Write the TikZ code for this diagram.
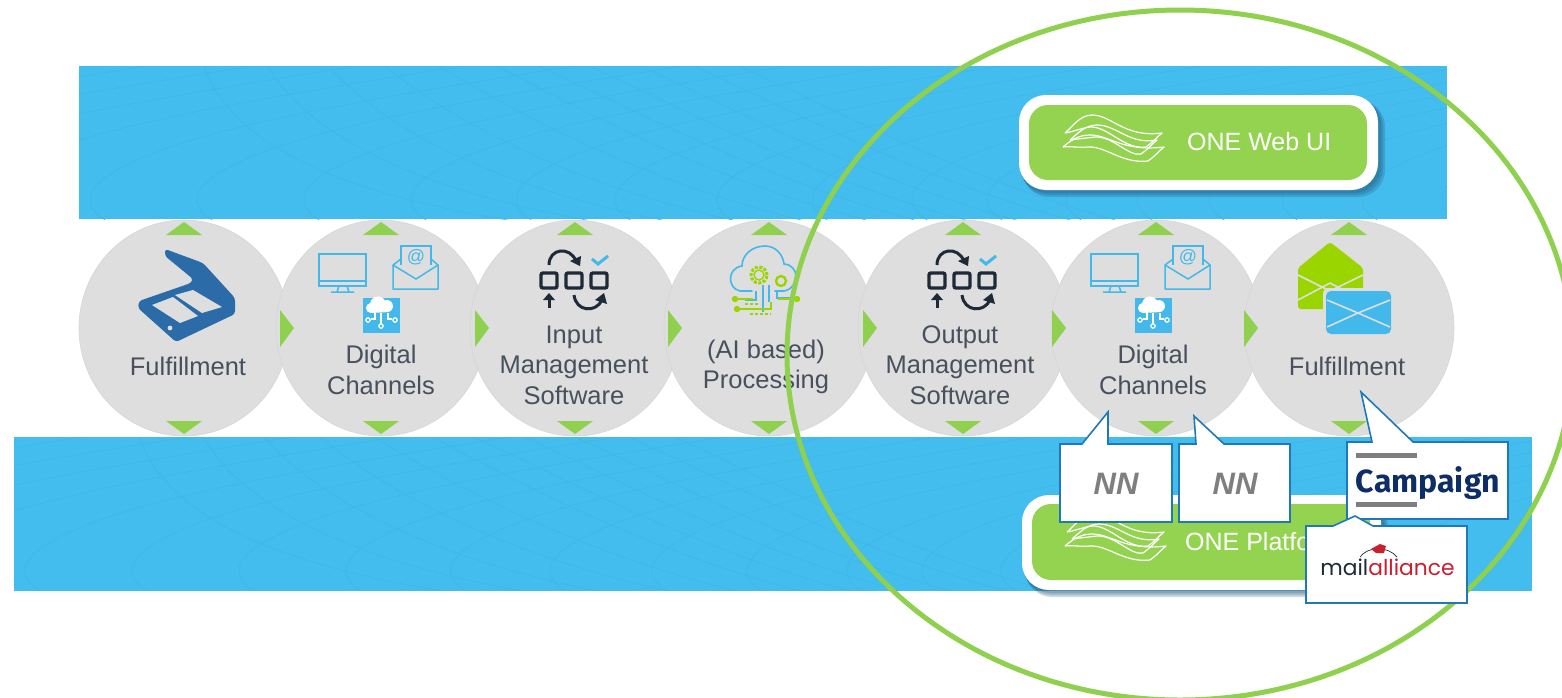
\documentclass[tikz,border=0pt]{standalone}
\usepackage{fontspec}
\setmainfont{Liberation Sans}
\newfontfamily\campfont{Fira Sans}
\newfontfamily\mailfont{Poppins}
\usetikzlibrary{calc,shapes.geometric}
\definecolor{bandblue}{HTML}{43BCEE}
\definecolor{bandline}{HTML}{3FB6E8}
\definecolor{ringgreen}{HTML}{8FD14F}
\definecolor{btngreen}{HTML}{93D34F}
\definecolor{disc}{HTML}{DEDEDE}
\definecolor{discedge}{HTML}{D6D6D6}
\definecolor{labelgrey}{HTML}{47505C}
\definecolor{scanblue}{HTML}{2B6CA8}
\definecolor{iconblue}{HTML}{43B8EA}
\definecolor{icondark}{HTML}{1E2A38}
\definecolor{limegreen}{HTML}{9AD500}
\definecolor{calloutedge}{HTML}{1F78B8}
\definecolor{navylogo}{HTML}{0E2D66}
\definecolor{greylogo}{HTML}{7F7F7F}
\definecolor{redlogo}{HTML}{C8202F}
\definecolor{shadowblue}{HTML}{1F4F70}
\tikzset{
  discnode/.style={ellipse,fill=disc,draw=discedge,line width=.6pt,minimum width=210pt,minimum height=216pt,inner sep=0pt},
  disclabel/.style={text=labelgrey,align=center,inner sep=0pt,font=\fontsize{25.5}{30.5}\selectfont},
  tri/.style={fill=ringgreen},
  bandbox/.style={fill=bandblue},
  faint/.style={draw=bandline,line width=.6pt},
  btnout/.style={fill=white,rounded corners=27pt},
  btnin/.style={fill=btngreen,rounded corners=19pt},
  btnshadow/.style={fill=shadowblue,opacity=.22,rounded corners=27pt},
  btntext/.style={text=white,inner sep=0pt,anchor=west,font=\fontsize{25}{30}\selectfont},
  wave/.style={draw=white,line width=1.2pt},
  thinicon/.style={draw=iconblue,line width=1.5pt},
  callout/.style={fill=white,draw=calloutedge,line width=1.6pt,line join=miter},
  nnlabel/.style={text=greylogo,inner sep=0pt,font=\fontsize{31}{31}\selectfont\bfseries\itshape},
  proc/.style={draw=icondark,line width=3.4pt,rounded corners=2pt},
  procarc/.style={draw=icondark,line width=3pt},
}
% faint grid of a band, from its top left corner
\newcommand{\gridlines}[3]{%
  \begin{scope}[shift={(#1,#2)}]
    \clip (0,0) rectangle (#3,153);
    \foreach \s/\k in {125/0,189/.2,250/.4,306/.6,360/.8,418/.9,459/1,510/1,561/1,615/1,660/1}{
      \draw[faint] (\s,0) .. controls ({\s+25+65*\k},{72-32*\k}) and ({\s+120+100*\k},{125-13*\k}) .. ({\s+310+70*\k},155);
    }
    \foreach \b in {-420,-315,-210,-105,8,115,222,329,434,533,635,730,830,905,984,1055,1127,1200,1280,1360}{
      \draw[faint] ({\b+20},155) .. controls ({\b-2},143) and ({\b-5},125) .. ({\b+25},107) .. controls ({\b+100},60) and ({\b+300},30) .. ({\b+550},-10);
    }
  \end{scope}}
% wave logo, drawn from its top left corner
\newcommand{\wavelogo}[2]{%
  \begin{scope}[shift={(#1,#2)}]
    \foreach \e/\ly/\cy/\ry in {0/18/0/18,5/25/10/25,-2/32/20/32}{
      \draw[wave,line join=round] ({3+\e},\ly) .. controls ({10+\e},{\ly-6}) and ({18+\e},\cy) .. ({30+\e},\cy)
         .. controls ({50+\e},\cy) and ({62+\e},{\ry+5}) .. ({100-\e},\ry)
         .. controls ({95-\e},{\ry+4}) and ({90-\e},{\ry+10}) .. ({84-\e},{\ry+14})
         .. controls ({62+\e},{\ry+17}) and ({46+\e},{\cy+11}) .. ({28+\e},{\cy+12})
         .. controls ({20+\e},{\cy+13}) and ({10+\e},{\ly-1}) .. ({3+\e},\ly);
    }
  \end{scope}}
% monitor, envelope and cloud icon of the digital channels
\newcommand{\digitalicon}[1]{%
  \begin{scope}[xshift=#1pt]
    \draw[thinicon] (319,254) rectangle (366,286);
    \draw[thinicon] (319,281) -- (366,281);
    \draw[thinicon] (339,286) -- (337,292) (347,286) -- (349,292) (331,292) -- (354,292);
    \draw[thinicon] (401,265) -- (401,246) -- (431,246) -- (431,265);
    \draw[thinicon,line join=round] (401,259) -- (393,265) -- (393,289) -- (438,289) -- (438,265) -- (431,259);
    \draw[thinicon] (393,265) -- (416,279) -- (438,265);
    \node[text=iconblue,inner sep=0pt,font=\fontsize{18}{18}\selectfont] (at#1) at (416,257) {@};
    \fill[iconblue] (363,298) rectangle (400,333);
    \fill[white] (371,313) arc[start angle=270,end angle=100,radius=5pt]
       arc[start angle=170,end angle=30,radius=8pt]
       arc[start angle=110,end angle=-90,radius=6pt] -- cycle;
    \draw[white,line width=1.3pt] (381,313) -- (381,324) (375,313) -- (375,319) -- (371,319) (388,313) -- (388,319) -- (392,319);
    \draw[white,line width=1.2pt] (381,326) circle[radius=2.2pt] (368,320) circle[radius=2.2pt] (395,320) circle[radius=2.2pt];
  \end{scope}}
% three steps icon of the management software
\newcommand{\processicon}[1]{%
  \begin{scope}[xshift=#1pt]
    \draw[proc] (541,273) rectangle (557,288);
    \draw[proc] (566,273) rectangle (582,288);
    \draw[proc] (591,273) rectangle (607,288);
    \draw[procarc] (549,265) .. controls (549,248) and (570,246) .. (576,261);
    \fill[icondark] (570,261) -- (581,256) -- (580,266) -- cycle;
    \draw[line width=3pt,draw=iconblue] (592,259) -- (598,264) -- (608,256);
    \draw[procarc] (549,308) -- (549,299);
    \fill[icondark] (543,300) -- (549,293) -- (555,300) -- cycle;
    \draw[procarc] (574,295) .. controls (576,312) and (596,313) .. (602,300);
    \fill[icondark] (595,300) -- (604,293) -- (607,304) -- cycle;
  \end{scope}}
\newcommand{\softshadow}[4]{%
  \fill[btnshadow] (#1+1,#2+3) rectangle (#3+3,#4+3);
  \fill[btnshadow] (#1+2,#2+4) rectangle (#3+5,#4+5);
  \fill[btnshadow] (#1+3,#2+5) rectangle (#3+7,#4+7);}
\begin{document}
\begin{tikzpicture}[x=1pt,y=-1pt]
\useasboundingbox (0,0) rectangle (1562,697);
\fill[white] (0,0) rectangle (1562,697);
% bands
\fill[bandbox] (79,66) rectangle (1447,219);
\fill[bandbox] (14,437) rectangle (1532,591);
\gridlines{79}{66}{1368}
\gridlines{14}{437}{1518}
% buttons
\softshadow{1019}{95}{1378}{190}
\fill[btnout] (1019,95) rectangle (1378,190);
\fill[btnin] (1029,105) rectangle (1367,180);
\wavelogo{1062}{115}
\node[btntext] (webui) at (1187,142) {ONE Web UI};
\softshadow{1022}{495}{1381}{590}
\fill[btnout] (1022,495) rectangle (1381,590);
\fill[btnin] (1032,504) rectangle (1370,580);
\wavelogo{1064}{514}
\node[btntext] (platform) at (1185,542) {ONE Platform};
% discs
\foreach \n/\x in {1/184,2/381,3/575,4/769,5/963,6/1156,7/1349}{
  \node[discnode] (c\n) at (\x,328) {};
}
\foreach \x in {184,381,575,769,963,1156,1349}{
  \fill[tri] (\x-18,235) -- (\x,222) -- (\x+18,235) -- cycle;
  \fill[tri] (\x-18,421) -- (\x,434) -- (\x+18,421) -- cycle;
}
\foreach \x in {280,475,668,863,1052,1244}{
  \fill[tri] (\x,310) -- (\x+14,328) -- (\x,347) -- cycle;
}
% scanner
\fill[scanblue,rounded corners=3pt] (165,249) -- (203,263) -- (235,298) -- (235,314) -- (176,342) -- (138,308) -- (139,301) -- (191,283) -- (193,279) -- (165,256) -- cycle;
\fill[disc] (152,305) -- (173,297) -- (198,316) -- (180,323) -- cycle;
\fill[disc] (175,295) -- (193,290) -- (222,307) -- (202,313) -- cycle;
\fill[disc] (170,328) circle[radius=2.4pt];
% digital icons
\digitalicon{0}
\digitalicon{772}
% process icons
\processicon{0}
\processicon{388}
% cloud icon
\draw[iconblue,line width=1.6pt,line cap=round] (752,291) -- (740,291) .. controls (727,288) and (727,268) .. (742,266)
   .. controls (742,255) and (752,246) .. (765,246) .. controls (776,246) and (783,255) .. (784,264)
   .. controls (800,265) and (800,288) .. (784,291) -- (775,291);
\draw[iconblue,line width=1.5pt] (756,291) -- (756,300) -- (745,300) (763,285) -- (763,312) (769,285) -- (769,302) (777,291) -- (777,298) -- (790,298);
\draw[limegreen,line width=3pt,dash pattern=on 3pt off 1.6pt] (759,275) circle[radius=8pt];
\draw[limegreen,line width=1.4pt] (759,275) circle[radius=5pt];
\draw[limegreen,line width=2.4pt] (781,281) circle[radius=5pt];
\fill[limegreen] (735,299) circle[radius=3.2pt] (797,299) circle[radius=3.2pt] (737,309) circle[radius=3.2pt];
\draw[limegreen,line width=1.5pt] (735,299) -- (753,299) (737,309) -- (771,309) -- (771,302) (778,299) -- (797,299);
\draw[limegreen,line width=1.5pt,dash pattern=on 3pt off 2pt] (745,304) -- (760,304) (750,314) -- (771,314);
% envelopes
\fill[limegreen,rounded corners=3pt] (1298,268) -- (1330,242) -- (1363,268) -- (1363,309) -- (1298,309) -- cycle;
\draw[disc,line width=1.6pt] (1298,275) -- (1330,291) -- (1363,275) (1298,300) -- (1330,283) (1363,300) -- (1330,283);
\fill[disc,rounded corners=5pt] (1323,288) rectangle (1394,337);
\fill[iconblue,rounded corners=5pt] (1326,291) rectangle (1391,334);
\draw[disc,line width=1.6pt] (1327,300) -- (1358,313) -- (1390,300) (1327,327) -- (1358,313) (1390,327) -- (1358,313);
% disc labels
\node[disclabel] (t1) at (188,366) {Fulfillment};
\node[disclabel] (t2) at (381,370) {Digital\\Channels};
\node[disclabel] (t3) at (574,365) {Input\\Management\\Software};
\node[disclabel] (t4) at (766,367) {(AI based)\\Processing};
\node[disclabel] (t5) at (960,365) {Output\\Management\\Software};
\node[disclabel] (t6) at (1153,370) {Digital\\Channels};
\node[disclabel] (t7) at (1347,366) {Fulfillment};
% big ring
\draw[ringgreen,line width=5pt] (1180,355) ellipse[x radius=393pt,y radius=345pt];
% callouts
\draw[callout] (1060,444) -- (1082,444) -- (1108,412) -- (1108,444) -- (1172,444) -- (1172,522) -- (1060,522) -- cycle;
\node[nnlabel] (nn1) at (1116,484) {NN};
\draw[callout] (1179,444) -- (1196,444) -- (1194,416) -- (1224,444) -- (1290,444) -- (1290,522) -- (1179,522) -- cycle;
\node[nnlabel] (nn2) at (1235,484) {NN};
\draw[callout] (1347,442) -- (1372,442) -- (1361,392) -- (1413,442) -- (1508,442) -- (1508,519) -- (1347,519) -- cycle;
\fill[greylogo] (1356,453) rectangle (1417,457.5);
\fill[greylogo] (1356,502) rectangle (1417,506.5);
\node[inner sep=0pt,anchor=base,text=navylogo,font=\campfont\bfseries\fontsize{32}{32}\selectfont] (campaign) at (1428,492) {Campaign};
\draw[callout] (1306,526) -- (1333,526) -- (1355,516) -- (1373,526) -- (1467,526) -- (1467,603) -- (1306,603) -- cycle;
\node[inner sep=0pt,anchor=base,font=\mailfont\fontsize{21.8}{24}\selectfont] (mailtext) at (1387.5,575) {\textcolor{icondark}{mail}\textcolor{redlogo}{alliance}};
\draw[icondark,line width=.7pt] (1360,557) .. controls (1368,546) and (1388,546) .. (1397,557);
\fill[redlogo] (1371,549) -- (1380,544) -- (1386,546) -- (1384,553) -- (1376,553) -- cycle;
\end{tikzpicture}
\end{document}
